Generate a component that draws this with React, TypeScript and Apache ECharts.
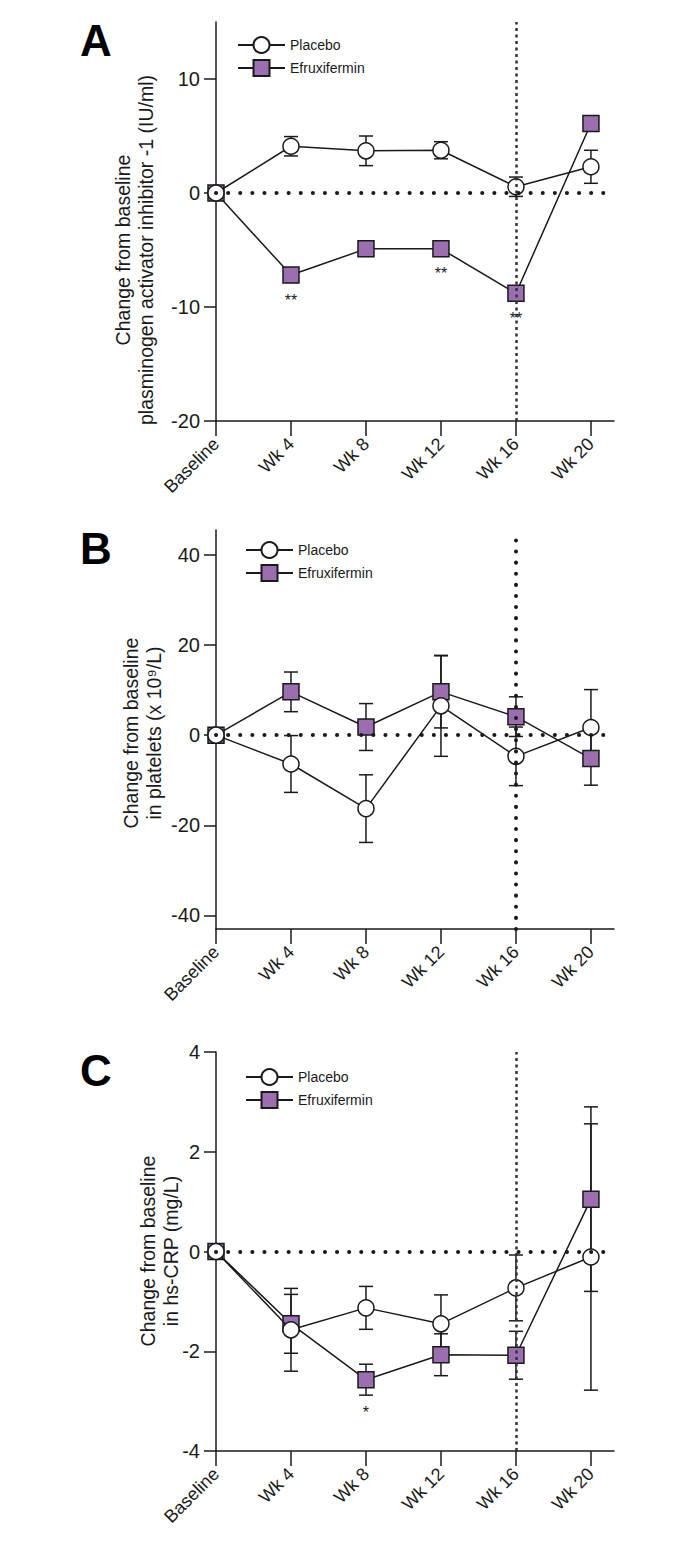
import React, { useEffect, useRef } from 'react';
import * as echarts from 'echarts';

// ---------- data ----------
const weeks = [0, 4, 8, 12, 16, 20];
const weekLabels = ['Baseline', 'Wk 4', 'Wk 8', 'Wk 12', 'Wk 16', 'Wk 20'];
const seriesNames = ['Placebo', 'Efruxifermin'];
const cutoffWeek = 16;

// Panel A: PAI-1 (IU/ml)
const paiPlacebo = [0, 4.1, 3.7, 3.75, 0.55, 2.3];
const paiPlaceboErr = [0, 0.85, 1.3, 0.75, 0.85, 1.45];
const paiEfx = [0, -7.2, -4.9, -4.9, -8.8, 6.1];
const paiEfxErr = [0, 0.5, 0.5, 0.5, 0.6, 0.5];
const paiSig = [
  { week: 4, mark: '**' },
  { week: 12, mark: '**' },
  { week: 16, mark: '**' },
];
const paiTicks = [-20, -10, 0, 10];

// Panel B: platelets (x 10^9/L)
const pltPlacebo = [0, -6.4, -16.3, 6.5, -4.7, 1.7];
const pltPlaceboErr = [0, 6.3, 7.5, 11.2, 6.5, 8.4];
const pltEfx = [0, 9.6, 1.8, 9.6, 4.1, -5.2];
const pltEfxErr = [0, 4.4, 5.2, 8.0, 4.4, 5.9];
const pltSig: { week: number; mark: string }[] = [];
const pltTicks = [-40, -20, 0, 20, 40];

// Panel C: hs-CRP (mg/L)
const crpPlacebo = [0, -1.57, -1.13, -1.45, -0.73, -0.11];
const crpPlaceboErr = [0, 0.83, 0.43, 0.58, 0.66, 2.67];
const crpEfx = [0, -1.45, -2.57, -2.07, -2.08, 1.05];
const crpEfxErr = [0, 0.59, 0.31, 0.42, 0.48, 1.85];
const crpSig = [{ week: 8, mark: '*' }];
const crpTicks = [-4, -2, 0, 2, 4];

// ---------- style ----------
const FONT = '"Liberation Sans", Arial, Helvetica, sans-serif';
const INK = '#1a1a1a';
const PURPLE = '#9b6eb0';
const X_MAX = 21.23;

const panels = [
  {
    letter: 'A',
    title: 'Change from baseline\nplasminogen activator inhibitor -1 (IU/ml)',
    titleX: 134, titleY: 250,
    top: 22, min: -20, max: 15, ticks: paiTicks,
    placebo: paiPlacebo, placeboErr: paiPlaceboErr, efx: paiEfx, efxErr: paiEfxErr, sig: paiSig,
    legendLeft: 237, legendTop: 36, vStyle: 'dash',
  },
  {
    letter: 'B',
    title: 'Change from baseline\nin platelets (x 10\u2079/L)',
    titleX: 142, titleY: 733,
    top: 530, min: -43, max: 45.5, ticks: pltTicks,
    placebo: pltPlacebo, placeboErr: pltPlaceboErr, efx: pltEfx, efxErr: pltEfxErr, sig: pltSig,
    legendLeft: 245, legendTop: 541, vStyle: 'dot',
  },
  {
    letter: 'C',
    title: 'Change from baseline\nin hs-CRP (mg/L)',
    titleX: 159, titleY: 1251,
    top: 1052, min: -4, max: 4, ticks: crpTicks,
    placebo: crpPlacebo, placeboErr: crpPlaceboErr, efx: crpEfx, efxErr: crpEfxErr, sig: crpSig,
    legendLeft: 245, legendTop: 1068, vStyle: 'dash',
  },
];

function errorBarItem(params: any, api: any) {
  const x = api.value(0);
  const y = api.value(1);
  const e = api.value(2);
  if (!e) return null;
  const hi = api.coord([x, y + e]);
  const lo = api.coord([x, y - e]);
  const w = 7;
  const style = { stroke: INK, lineWidth: 1.5 };
  return {
    type: 'group',
    children: [
      { type: 'line', shape: { x1: hi[0], y1: hi[1], x2: lo[0], y2: lo[1] }, style },
      { type: 'line', shape: { x1: hi[0] - w, y1: hi[1], x2: hi[0] + w, y2: hi[1] }, style },
      { type: 'line', shape: { x1: lo[0] - w, y1: lo[1], x2: lo[0] + w, y2: lo[1] }, style },
    ],
  };
}

function buildOption() {
  const grid: any[] = [];
  const xAxis: any[] = [];
  const yAxis: any[] = [];
  const series: any[] = [];
  const legend: any[] = [];
  const graphic: any[] = [];

  panels.forEach((p, i) => {
    grid.push({ left: 216, top: p.top, width: 398, height: 399, containLabel: false });
    xAxis.push({
      type: 'value', gridIndex: i, min: 0, max: X_MAX,
      axisLine: { show: true, onZero: false, lineStyle: { color: INK, width: 1.5 } },
      axisTick: { show: true, length: 15, customValues: weeks, lineStyle: { color: INK, width: 1.5 } },
      axisLabel: {
        show: true, customValues: weeks, rotate: 45, margin: 20, fontSize: 18, color: INK, fontFamily: FONT,
        formatter: (v: number) => { const k = weeks.indexOf(Math.round(v)); return k >= 0 ? weekLabels[k] : ''; },
      },
      splitLine: { show: false },
    });
    yAxis.push({
      type: 'value', gridIndex: i, min: p.min, max: p.max,
      axisLine: { show: true, onZero: false, lineStyle: { color: INK, width: 1.5 } },
      axisTick: { show: true, length: 12, customValues: p.ticks, lineStyle: { color: INK, width: 1.5 } },
      axisLabel: { show: true, customValues: p.ticks, margin: 16, fontSize: 20, color: INK, fontFamily: FONT },
      splitLine: { show: false },
    });

    const vLine = p.vStyle === 'dot'
      ? { color: INK, width: 4, type: [0.1, 11], cap: 'round' }
      : { color: '#333', width: 2.5, type: [3, 3.5], cap: 'butt' };

    series.push({
      type: 'line', name: 'reference lines ' + p.letter, xAxisIndex: i, yAxisIndex: i, data: [], z: 1,
      markLine: {
        silent: true, symbol: ['none', 'none'], label: { show: false }, animation: false,
        data: [
          { yAxis: 0, lineStyle: { color: INK, width: 4, type: [0.1, 12], cap: 'round' } },
          { xAxis: cutoffWeek, lineStyle: vLine },
        ],
      },
    });

    series.push({
      type: 'custom', name: 'Efruxifermin error ' + p.letter, xAxisIndex: i, yAxisIndex: i, z: 2,
      renderItem: errorBarItem, encode: { x: 0, y: 1 },
      data: weeks.map((w, j) => [w, p.efx[j], p.efxErr[j]]),
    });
    series.push({
      type: 'custom', name: 'Placebo error ' + p.letter, xAxisIndex: i, yAxisIndex: i, z: 2,
      renderItem: errorBarItem, encode: { x: 0, y: 1 },
      data: weeks.map((w, j) => [w, p.placebo[j], p.placeboErr[j]]),
    });
    series.push({
      type: 'line', name: 'Efruxifermin', xAxisIndex: i, yAxisIndex: i, z: 3,
      symbol: 'rect', symbolSize: 16,
      itemStyle: { color: PURPLE, borderColor: INK, borderWidth: 1.5 },
      lineStyle: { color: INK, width: 1.5 },
      data: weeks.map((w, j) => [w, p.efx[j]]),
    });
    series.push({
      type: 'line', name: 'Placebo', xAxisIndex: i, yAxisIndex: i, z: 4,
      symbol: 'circle', symbolSize: 16,
      itemStyle: { color: '#ffffff', borderColor: INK, borderWidth: 1.5 },
      lineStyle: { color: INK, width: 1.5 },
      data: weeks.map((w, j) => [w, p.placebo[j]]),
    });
    if (p.sig.length) {
      const sig = p.sig;
      series.push({
        type: 'custom', name: 'significance ' + p.letter, xAxisIndex: i, yAxisIndex: i, z: 5,
        encode: { x: 0, y: 1 },
        data: sig.map((s) => {
          const k = weeks.indexOf(s.week);
          return [s.week, p.efx[k], p.efxErr[k]];
        }),
        renderItem: (params: any, api: any) => {
          const x = api.value(0), v = api.value(1), e = api.value(2);
          const c = api.coord([x, v]);
          const lo = api.coord([x, v - e]);
          const y = Math.max(c[1] + 8, lo[1]) + 9;
          return {
            type: 'text', x: c[0], y,
            style: {
              text: sig[params.dataIndex].mark, fill: INK, fontSize: 16, fontFamily: FONT,
              textAlign: 'center', textVerticalAlign: 'top', align: 'center', verticalAlign: 'top',
            },
          };
        },
      });
    }

    legend.push({
      orient: 'vertical', left: p.legendLeft, top: p.legendTop, padding: 0,
      itemWidth: 47, itemHeight: 20, itemGap: 5, selectedMode: false,
      data: seriesNames,
      textStyle: { fontSize: 14, color: INK, fontFamily: FONT },
    });

    graphic.push({
      type: 'text', x: 80, y: p.top - 4,
      style: { text: p.letter, fill: '#000', font: `bold 44px ${FONT}`, textAlign: 'left', textVerticalAlign: 'top' },
    });
    graphic.push({
      type: 'text', x: p.titleX, y: p.titleY, rotation: Math.PI / 2,
      style: {
        text: p.title, fill: INK, fontSize: 19.5, lineHeight: 23, fontFamily: FONT,
        textAlign: 'center', textVerticalAlign: 'middle',
      },
    });
  });

  return {
    animation: false,
    backgroundColor: '#ffffff',
    textStyle: { fontFamily: FONT },
    grid, xAxis, yAxis, series, legend, graphic,
  };
}

export default function App() {
  const ref = useRef<HTMLDivElement>(null);
  useEffect(() => {
    if (!ref.current) return;
    const chart = echarts.init(ref.current, undefined, { renderer: 'svg' });
    chart.setOption(buildOption() as any);
    return () => chart.dispose();
  }, []);
  return (
    <div
      ref={ref}
      style={{ position: 'absolute', left: 0, top: 0, width: 692, height: 1545, background: '#fff' }}
    />
  );
}
